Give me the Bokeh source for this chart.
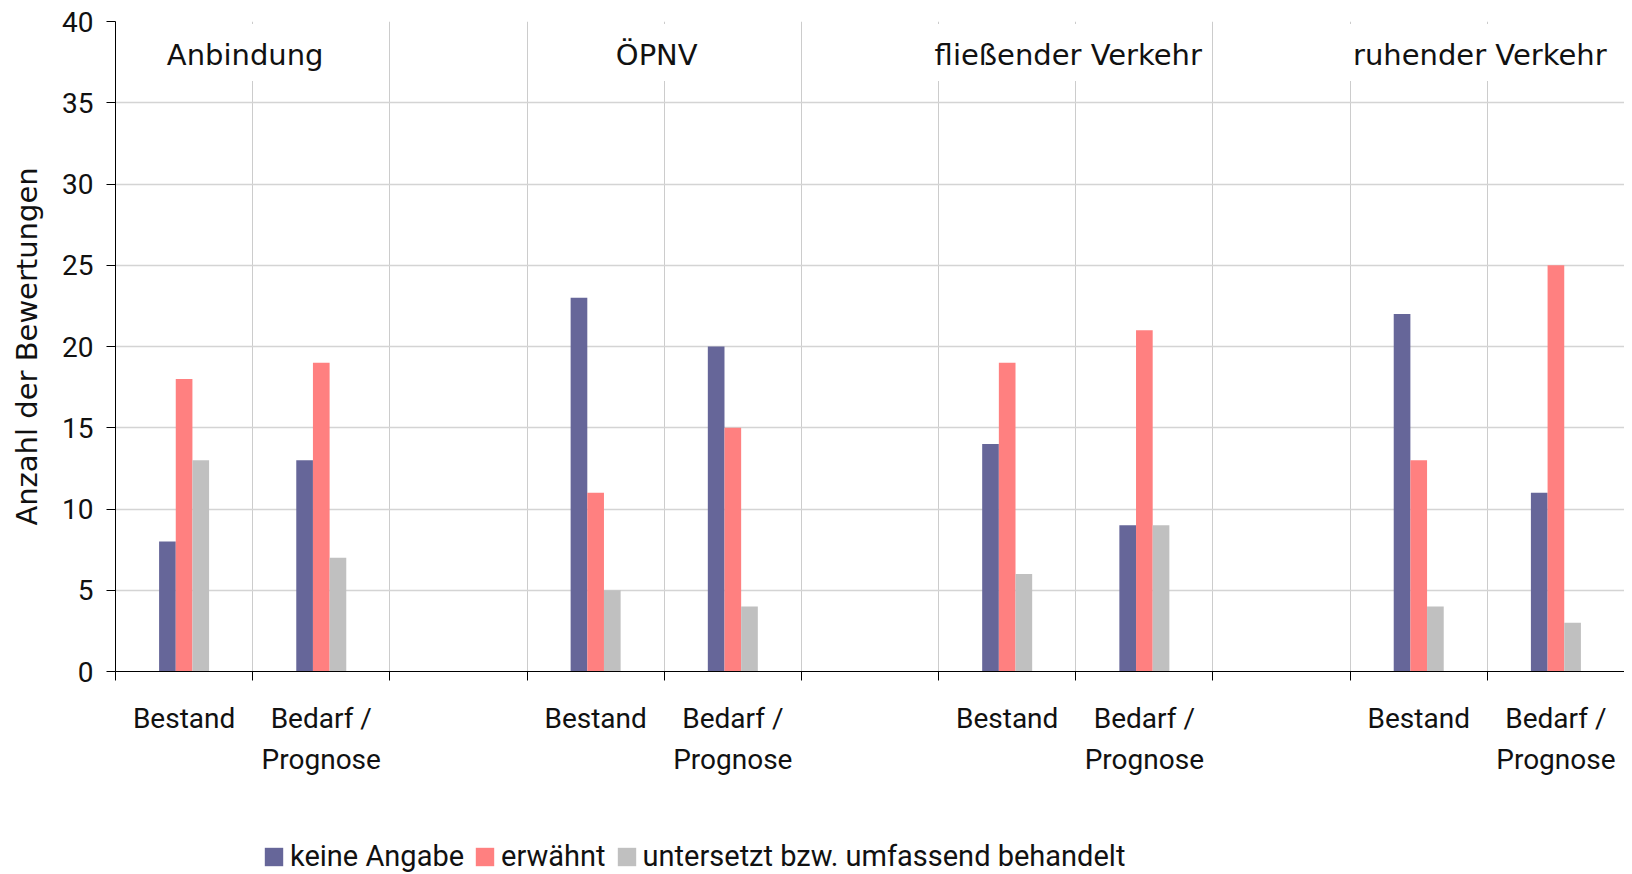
from bokeh.plotting import figure
from bokeh.layouts import column
from bokeh.models import (ColumnDataSource, FixedTicker, Grid, Legend, LegendItem)
from bokeh.core.properties import value
from bokeh.embed import file_html
from bokeh.resources import INLINE

# ---- data ----
groups = ["Anbindung", "ÖPNV", "fließender Verkehr", "ruhender Verkehr"]
phases = ["Bestand", "Bedarf /\nPrognose"]
series_names = ["keine Angabe", "erwähnt", "untersetzt bzw. umfassend behandelt"]
keine_angabe = [8, 13, 23, 20, 14, 9, 22, 11]
erwaehnt = [18, 19, 11, 15, 19, 21, 13, 25]
untersetzt = [13, 7, 5, 4, 6, 9, 4, 3]
y_ticks = [0, 5, 10, 15, 20, 25, 30, 35, 40]
colors = ["#666699", "#FF8080", "#C0C0C0"]

# slot layout: each group has 2 phases followed by an empty slot
n_slots = 3 * len(groups) - 1
slot_idx = [3 * g + k for g in range(len(groups)) for k in range(len(phases))]
centers = [s + 0.5 for s in slot_idx]
bar_w = 0.1215

p = figure(width=1624, height=820, output_backend="svg", toolbar_location=None,
           x_range=(0, n_slots), y_range=(0, 40),
           min_border_left=115, min_border_right=0, min_border_top=21,
           min_border_bottom=149)
p.outline_line_color = None

for i, (vals, col) in enumerate(zip([keine_angabe, erwaehnt, untersetzt], colors)):
    src = ColumnDataSource(dict(x=[c + (i - 1) * bar_w for c in centers], top=vals))
    p.vbar(x="x", top="top", width=bar_w, bottom=0, source=src,
           fill_color=col, line_color=None)

# grids
p.xgrid.visible = False
p.ygrid.visible = False
vg = Grid(dimension=0, ticker=FixedTicker(ticks=list(range(1, n_slots))),
          grid_line_color="#CCCCCC", grid_line_width=1)
hg = Grid(dimension=1, ticker=FixedTicker(ticks=y_ticks[1:-1]),
          grid_line_color="#D4D4D4", grid_line_width=1.5)
p.add_layout(vg)
p.add_layout(hg)

# x axis
xa = p.xaxis[0]
xa.ticker = FixedTicker(ticks=centers, minor_ticks=list(range(0, n_slots + 1)))
xa.major_label_overrides = {c: phases[j % 2] for j, c in enumerate(centers)}
xa.major_tick_in = 0
xa.major_tick_out = 0
xa.minor_tick_in = 0
xa.minor_tick_out = 9
xa.minor_tick_line_color = "black"
xa.axis_line_color = "black"
xa.major_label_text_font = "Roboto"
xa.major_label_text_font_size = "28px"
xa.major_label_text_color = "#111111"
xa.major_label_text_line_height = 1.25
xa.major_label_standoff = 21

# y axis
ya = p.yaxis[0]
ya.ticker = FixedTicker(ticks=y_ticks)
ya.major_tick_in = 0
ya.major_tick_out = 9
ya.minor_tick_line_color = None
ya.axis_line_color = "black"
ya.major_tick_line_color = "black"
ya.major_label_text_font = "Roboto"
ya.major_label_text_font_size = "28px"
ya.major_label_text_color = "#111111"
ya.major_label_standoff = 13
ya.axis_label = "Anzahl der Bewertungen"
ya.axis_label_text_font = "DejaVu Sans"
ya.axis_label_text_font_size = "29px"
ya.axis_label_text_font_style = "normal"
ya.axis_label_text_color = "#111111"
ya.axis_label_standoff = 15

# group titles
tsrc = ColumnDataSource(dict(x=[3 * g + 1 for g in range(len(groups))],
                             y=[38.1] * len(groups), t=groups))
p.text(x="x", y="y", text="t", source=tsrc, text_align="center",
       text_baseline="middle", x_offset=-10,
       text_font=value("DejaVu Sans"), text_font_size="29px", text_color="#111111",
       background_fill_color="white", padding=[14, 9, 14, 9])

# legend in its own strip below the chart (frames are aligned with the chart)
lf = figure(width=1624, height=53, output_backend="svg", toolbar_location=None,
            x_range=(0, 1), y_range=(0, 1), x_axis_type=None, y_axis_type=None,
            min_border=0)
lf.outline_line_color = None
lf.xgrid.visible = False
lf.ygrid.visible = False
lrs = []
for col in colors:
    # zero-height proxy bars: only used to give the legend its swatches
    lrs.append(lf.vbar(x=[0.5], top=[0], bottom=[0], width=0.01,
                       fill_color=col, line_color=None))
legend = Legend(items=[LegendItem(label=n, renderers=[r]) for n, r in zip(series_names, lrs)],
                orientation="horizontal", location=(147, 0),
                glyph_width=23, glyph_height=23, label_standoff=5, spacing=9,
                padding=0, margin=0, border_line_color=None, background_fill_alpha=0,
                label_text_font="Roboto", label_text_font_size="29px",
                label_text_color="#111111", label_height=30)
lf.add_layout(legend)

layout = column(p, lf, spacing=0)
open("out.html", "w").write(file_html(layout, INLINE))
